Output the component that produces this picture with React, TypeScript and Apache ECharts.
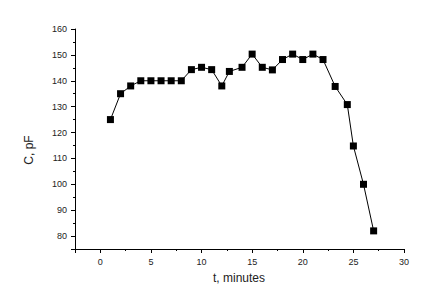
import React, { useEffect, useRef } from "react";
import * as echarts from "echarts";

const timeMinutes = [1, 2, 3, 4, 5, 6, 7, 8, 9, 10, 11, 12, 12.75, 14, 15, 16, 17, 18, 19, 20, 21, 22, 23.2, 24.4, 25, 26, 27];
const capacitancePF = [125, 135, 138, 140, 140, 140, 140, 140, 144.3, 145.2, 144.3, 138, 143.6, 145.2, 150.3, 145.2, 144.2, 148.2, 150.3, 148.2, 150.3, 148.2, 137.8, 130.8, 114.8, 100, 82];
const xAxisTitle = "t, minutes";
const yAxisTitle = "C, pF";

export default function App() {
  const ref = useRef<HTMLDivElement>(null);
  useEffect(() => {
    if (!ref.current) return;
    const chart = echarts.init(ref.current, undefined, { renderer: "svg" });
    const labelStyle = { color: "#222", fontSize: 9, fontFamily: "Liberation Sans, Arial, sans-serif" };
    chart.setOption({
      animation: false,
      backgroundColor: "#fff",
      grid: { left: 75, right: 27, top: 29, bottom: 59 },
      xAxis: [
        {
          type: "value",
          min: -2.5,
          max: 30,
          splitNumber: 6,
          axisLine: { show: true, onZero: false, lineStyle: { color: "#000", width: 1 } },
          axisTick: { show: true, length: 4, lineStyle: { color: "#000" } },
          axisLabel: { ...labelStyle, margin: 8, formatter: (v: number) => (v < 0 ? "" : String(v)) },
          splitLine: { show: false },
        },
        {
          type: "value",
          min: -2.5,
          max: 30,
          interval: 2.5,
          position: "bottom",
          axisLine: { show: false, onZero: false },
          axisTick: { show: true, length: 2, lineStyle: { color: "#000" } },
          axisLabel: { show: false },
          splitLine: { show: false },
        },
      ],
      yAxis: [
        {
          type: "value",
          min: 75,
          max: 160,
          splitNumber: 8,
          axisLine: { show: true, onZero: false, lineStyle: { color: "#000", width: 1 } },
          axisTick: { show: true, length: 4, lineStyle: { color: "#000" } },
          axisLabel: { ...labelStyle, margin: 8, formatter: (v: number) => (v % 10 !== 0 ? "" : String(v)) },
          splitLine: { show: false },
        },
        {
          type: "value",
          min: 75,
          max: 160,
          interval: 5,
          position: "left",
          axisLine: { show: false, onZero: false },
          axisTick: { show: true, length: 2, lineStyle: { color: "#000" } },
          axisLabel: { show: false },
          splitLine: { show: false },
        },
      ],
      graphic: [
        {
          type: "text",
          x: 239,
          y: 278,
          style: {
            text: xAxisTitle,
            fill: "#222",
            font: "12px Liberation Sans, Arial, sans-serif",
            align: "center",
            verticalAlign: "middle",
          },
        },
        {
          type: "text",
          x: 29,
          y: 150,
          rotation: Math.PI / 2,
          style: {
            text: yAxisTitle,
            fill: "#222",
            font: "12px Liberation Sans, Arial, sans-serif",
            align: "center",
            verticalAlign: "middle",
          },
        },
      ],
      series: [
        {
          type: "line",
          xAxisIndex: 0,
          yAxisIndex: 0,
          data: timeMinutes.map((t, i) => [t, capacitancePF[i]]),
          symbol: "rect",
          symbolSize: 7,
          itemStyle: { color: "#000" },
          lineStyle: { color: "#000", width: 1 },
        },
      ],
    });
    return () => chart.dispose();
  }, []);
  return <div ref={ref} style={{ width: 431, height: 308, position: "absolute", left: 0, top: 0 }} />;
}
